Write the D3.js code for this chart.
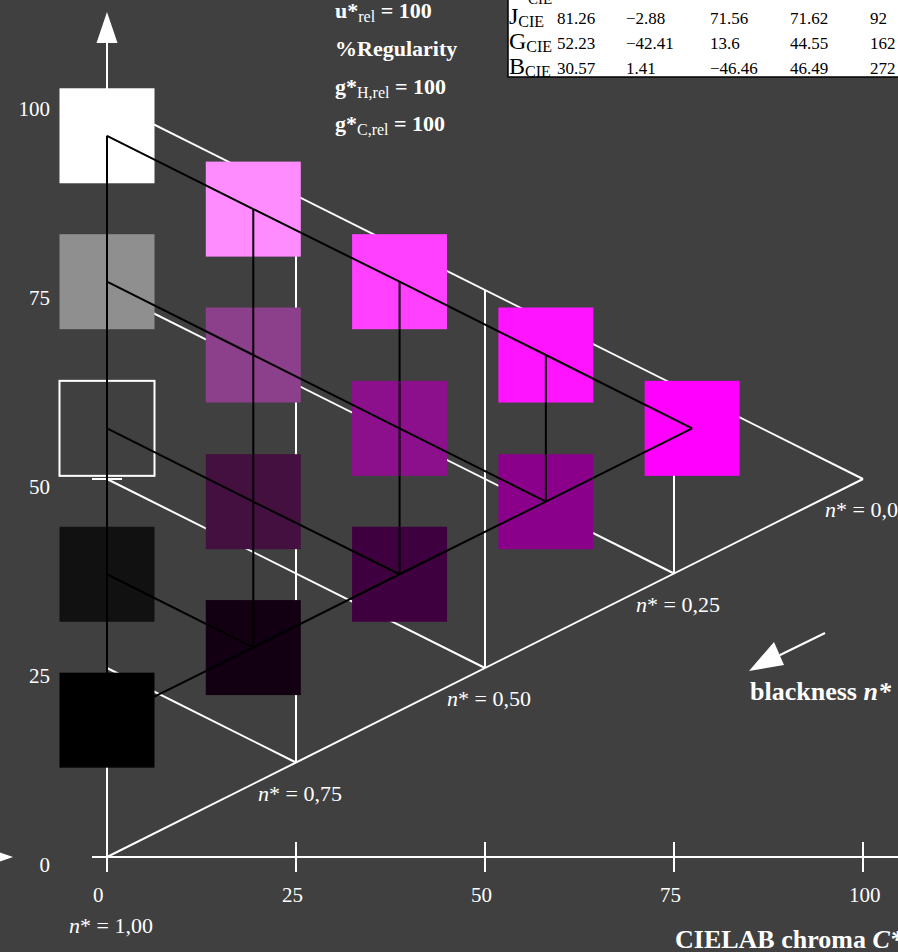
<!DOCTYPE html>
<html lang="en">
<head>
<meta charset="UTF-8">
<title>CIELAB chroma / lightness, blackness n*</title>
<script src="https://d3js.org/d3.v7.min.js"></script>
<style>
    body {
        margin: 0;
        background: #404040;
    }
    svg {
        display: block;
        font-family: "Liberation Serif", "Times New Roman", serif;
    }
</style>
</head>
<body>
<svg id="chart" width="898" height="952"></svg>
<script>
// axis ticks
const chromaTicks = [0, 25, 50, 75, 100];
const lightnessTicks = [0, 25, 50, 75, 100];
const lightnessTickMarks = [0, 50, 100];

// blackness labels along the black - colour edge
const nStarChroma = [0, 25, 50, 75, 100];
const nStarText = ["1,00", "0,75", "0,50", "0,25", "0,00"];

// colour samples (column = chroma step, row = step down from white edge)
const sampleCol = [0, 0, 0, 0, 0, 1, 1, 1, 1, 2, 2, 2, 3, 3, 4];
const sampleRow = [0, 1, 2, 3, 4, 0, 1, 2, 3, 0, 1, 2, 0, 1, 0];
const sampleChroma = [0, 0, 0, 0, 0, 19.35, 19.35, 19.35, 19.35, 38.7, 38.7, 38.7, 58.05, 58.05, 77.4];
const sampleLightness = [95.4, 76.1, 56.7, 37.4, 18.1, 85.7, 66.4, 47.0, 27.7, 76.1, 56.7, 37.4, 66.4, 47.0, 56.7];
const sampleColors = ["#ffffff", "#8f8f8f", "#404040", "#111111", "#000000",
                      "#ff8cff", "#8c408c", "#441040", "#120012",
                      "#ff40ff", "#8c108c", "#3e003e",
                      "#ff14ff", "#8a008a",
                      "#ff00ff"];

// CIE table
const tableRows = ["J", "G", "B"];
const tableValues = [
    ["81.26", "\u22122.88", "71.56", "71.62", "92"],
    ["52.23", "\u221242.41", "13.6", "44.55", "162"],
    ["30.57", "1.41", "\u221246.46", "46.49", "272"]
];

const svg = d3.select("#chart");
const x = d3.scaleLinear().domain([0, 100]).range([107, 863]);
const y = d3.scaleLinear().domain([0, 100]).range([857, 101]);
const line = d3.line().x(d => x(d[0])).y(d => y(d[1]));

// ---- white reference grid (outer triangle black / white / colour) ----
function outerPt(j, k) { return [25 * j, 100 - 12.5 * j - 25 * k]; }
const whiteLines = [];
for (let k = 0; k < 4; k++) whiteLines.push([outerPt(0, k), outerPt(4 - k, k)]);
for (let j = 1; j < 4; j++) whiteLines.push([outerPt(j, 0), outerPt(j, 4 - j)]);
whiteLines.push([outerPt(0, 4), outerPt(4, 0)]);

svg.append("g").selectAll("path").data(whiteLines).join("path")
    .attr("d", line).attr("fill", "none")
    .attr("stroke", "#fff").attr("stroke-width", 2);

// ---- axes ----
const axes = svg.append("g").attr("stroke", "#fff").attr("stroke-width", 2);
axes.append("line").attr("x1", 92).attr("x2", 905).attr("y1", y(0)).attr("y2", y(0));
axes.append("line").attr("x1", x(0)).attr("x2", x(0)).attr("y1", 43).attr("y2", y(0));
axes.selectAll(".xt").data(chromaTicks).join("line")
    .attr("x1", d => x(d)).attr("x2", d => x(d)).attr("y1", y(0) - 15).attr("y2", y(0) + 15);
axes.selectAll(".yt").data(lightnessTickMarks).join("line")
    .attr("x1", x(0) - 15).attr("x2", x(0) + 15).attr("y1", d => y(d)).attr("y2", d => y(d));

svg.append("polygon").attr("fill", "#fff")
    .attr("points", `${x(0)},12 ${x(0) - 10.5},43 ${x(0) + 10.5},43`);
svg.append("polygon").attr("fill", "#fff")
    .attr("points", `-18,${y(0) - 10.5} 13,${y(0)} -18,${y(0) + 10.5}`);

const labels = svg.append("g").attr("fill", "#fff").attr("font-size", 21);
labels.selectAll(".xl").data(chromaTicks).join("text")
    .attr("x", d => x(d) - 14).attr("y", y(0) + 45).text(d => d);
labels.selectAll(".yl").data(lightnessTicks).join("text")
    .attr("text-anchor", "end").attr("x", 50).attr("y", d => y(d) + 15).text(d => d);

// ---- colour samples ----
const sq = 95;
svg.append("g").selectAll("rect").data(sampleColors).join("rect")
    .attr("x", (d, i) => x(sampleChroma[i]) - sq / 2)
    .attr("y", (d, i) => y(sampleLightness[i]) - sq / 2)
    .attr("width", sq).attr("height", sq)
    .attr("fill", d => d)
    .attr("stroke", (d, i) => i === 2 ? "#fff" : "none")
    .attr("stroke-width", 2);

// ---- black grid through the samples ----
const pts = sampleCol.map((c, i) => ({ j: c, k: sampleRow[i], p: [sampleChroma[i], sampleLightness[i]] }));
const blackLines = [];
for (let k = 0; k < 4; k++) blackLines.push(pts.filter(d => d.k === k).map(d => d.p));
for (let j = 1; j < 4; j++) blackLines.push(pts.filter(d => d.j === j).map(d => d.p));
blackLines.push(pts.filter(d => d.j === 0).map(d => d.p));
blackLines.push(pts.filter(d => d.j + d.k === 4).map(d => d.p));

svg.append("g").selectAll("path").data(blackLines).join("path")
    .attr("d", line).attr("fill", "none")
    .attr("stroke", "#000").attr("stroke-width", 2);

// ---- n* labels ----
const nl = svg.append("g").attr("fill", "#fff").attr("font-size", 22);
nStarChroma.forEach((c, i) => {
    const t = nl.append("text")
        .attr("x", x(c) - 38)
        .attr("y", y(c / 2) + (i === 0 ? 76 : 38));
    t.append("tspan").attr("font-style", "italic").text("n");
    t.append("tspan").text("* = " + nStarText[i]);
});

// ---- blackness arrow ----
svg.append("line").attr("x1", 825).attr("y1", 633).attr("x2", 776).attr("y2", 657)
    .attr("stroke", "#fff").attr("stroke-width", 2);
svg.append("polygon").attr("fill", "#fff").attr("points", "749,671 774,642 784,665");

const bold = svg.append("g").attr("fill", "#fff").attr("font-weight", "bold").attr("font-size", 26);
const bl = bold.append("text").attr("x", 750).attr("y", 700);
bl.append("tspan").text("blackness ");
bl.append("tspan").attr("font-style", "italic").text("n*");

const cl = bold.append("text").attr("x", 675).attr("y", 948);
cl.append("tspan").text("CIELAB chroma ");
cl.append("tspan").attr("font-style", "italic").text("C*");

// ---- parameter text ----
const params = [["u*", "rel", " = 100"], ["%Regularity", "", ""], ["g*", "H,rel", " = 100"], ["g*", "C,rel", " = 100"]];
const paramY = [18, 56, 94, 131];
params.forEach((p, i) => {
    const t = bold.append("text").attr("x", 335).attr("y", paramY[i]).attr("font-size", 22);
    t.append("tspan").text(p[0]);
    if (p[1]) {
        t.append("tspan").attr("font-size", 16).attr("font-weight", "normal").attr("dy", 4).text(p[1]);
        t.append("tspan").attr("dy", -4).text(p[2]);
    }
});

// ---- CIE table ----
const tbl = svg.append("g");
tbl.append("rect").attr("x", 508).attr("y", -20).attr("width", 420).attr("height", 97)
    .attr("fill", "#fff").attr("stroke", "#000").attr("stroke-width", 1.5);
const colX = [557, 626, 710, 790, 870];
// partially hidden header row above the table
tbl.append("text").attr("x", 528).attr("y", 4).attr("font-size", 15).text("CIE");
tableRows.forEach((r, i) => {
    const by = 24 + i * 25;
    const t = tbl.append("text").attr("x", 509).attr("y", by).attr("font-size", 24);
    t.append("tspan").text(r);
    t.append("tspan").attr("font-size", 16).attr("dy", 3).text("CIE");
    tbl.selectAll(null).data(tableValues[i]).join("text")
        .attr("x", (d, k) => colX[k]).attr("y", by).attr("font-size", 17).text(d => d);
});
</script>
</body>
</html>
